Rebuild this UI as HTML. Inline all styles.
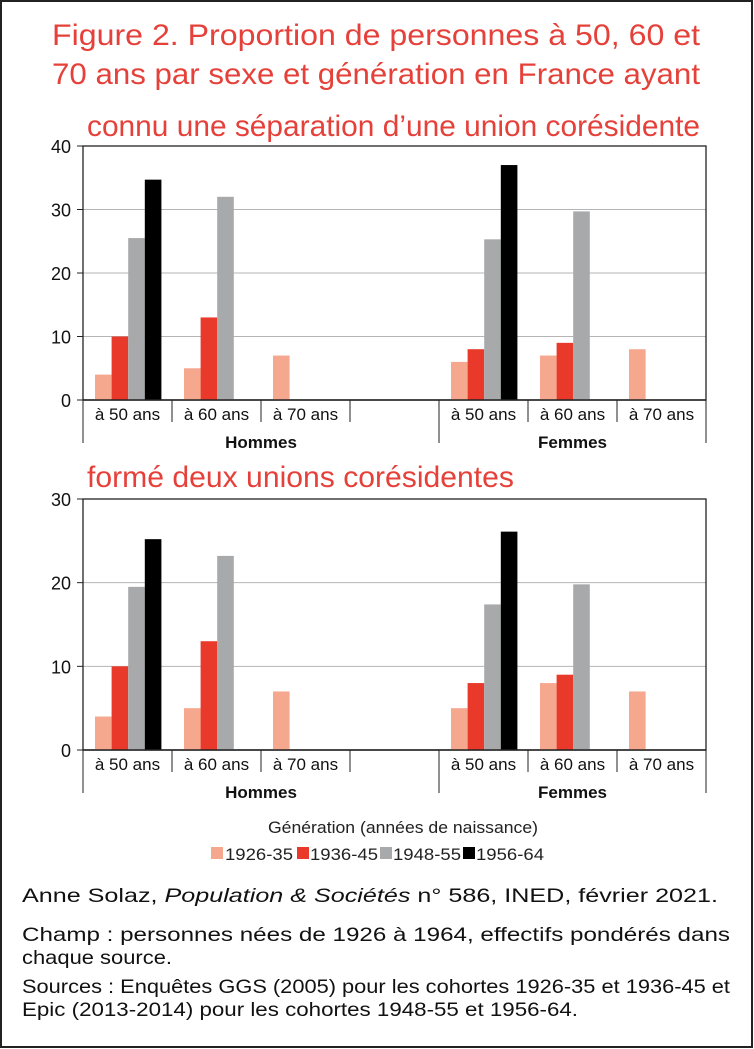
<!DOCTYPE html>
<html><head><meta charset="utf-8"><style>
body{margin:0;background:#fff}
svg{display:block;font-family:"Liberation Sans Narrow","Liberation Sans",sans-serif}
</style></head><body>
<svg width="754" height="1049" viewBox="0 0 754 1049">
<rect x="1" y="1" width="751" height="1046" fill="#fff" stroke="#222" stroke-width="2"/>
<g fill="#e5413a" font-size="30">
<text x="52" y="45" textLength="648" lengthAdjust="spacingAndGlyphs">Figure 2. Proportion de personnes à 50, 60 et</text>
<text x="52" y="84" textLength="648" lengthAdjust="spacingAndGlyphs">70 ans par sexe et génération en France ayant</text>
<text x="87" y="136" textLength="613" lengthAdjust="spacingAndGlyphs">connu une séparation d’une union corésidente</text>
<text x="87" y="487" textLength="427" lengthAdjust="spacingAndGlyphs">formé deux unions corésidentes</text>
</g>
<g id="c1"></g>
<g id="c2"></g>
<g font-family="Liberation Sans" font-size="17" fill="#222">
<text x="403" y="833" text-anchor="middle" textLength="270" lengthAdjust="spacingAndGlyphs">Génération (années de naissance)</text>
<rect x="211" y="847" width="12" height="12" fill="#f6a88f"/><text x="225" y="860" textLength="68" lengthAdjust="spacingAndGlyphs">1926-35</text>
<rect x="297" y="847" width="12" height="12" fill="#e8392a"/><text x="310" y="860" textLength="68" lengthAdjust="spacingAndGlyphs">1936-45</text>
<rect x="380" y="847" width="12" height="12" fill="#a8a9ab"/><text x="393" y="860" textLength="68" lengthAdjust="spacingAndGlyphs">1948-55</text>
<rect x="463" y="847" width="12" height="12" fill="#000"/><text x="476" y="860" textLength="68" lengthAdjust="spacingAndGlyphs">1956-64</text>
</g>
<g font-family="Liberation Sans" font-size="19.5" fill="#111">
<text x="22" y="902" textLength="696" lengthAdjust="spacingAndGlyphs">Anne Solaz, <tspan font-style="italic">Population &amp; Sociétés</tspan> n° 586, INED, février 2021.</text>
<text x="22" y="941" textLength="708" lengthAdjust="spacingAndGlyphs">Champ : personnes nées de 1926 à 1964, effectifs pondérés dans</text>
<text x="22" y="964" textLength="150" lengthAdjust="spacingAndGlyphs">chaque source.</text>
<text x="22" y="993" textLength="708" lengthAdjust="spacingAndGlyphs">Sources : Enquêtes GGS (2005) pour les cohortes 1926-35 et 1936-45 et</text>
<text x="22" y="1016" textLength="556" lengthAdjust="spacingAndGlyphs">Epic (2013-2014) pour les cohortes 1948-55 et 1956-64.</text>
</g>
</svg>
<script>
const categories = ["à 50 ans","à 60 ans","à 70 ans","","à 50 ans","à 60 ans","à 70 ans"];
const groups = ["Hommes","Femmes"];
const seriesNames = ["1926-35","1936-45","1948-55","1956-64"];
const sepS1926 = [4,5,7,null,6,7,8];
const sepS1936 = [10,13,null,null,8,9,null];
const sepS1948 = [25.5,32,null,null,25.3,29.7,null];
const sepS1956 = [34.7,null,null,null,37,null,null];
const uniS1926 = [4,5,7,null,5,8,7];
const uniS1936 = [10,13,null,null,8,9,null];
const uniS1948 = [19.5,23.2,null,null,17.4,19.8,null];
const uniS1956 = [25.2,null,null,null,26.1,null,null];
const sepTicks = [0,10,20,30,40];
const uniTicks = [0,10,20,30];
const colors = ["#f6a88f","#e8392a","#a8a9ab","#000"];
const NS="http://www.w3.org/2000/svg";
function mk(p,t,a){const e=document.createElementNS(NS,t);for(const k in a)e.setAttribute(k,a[k]);p.appendChild(e);return e;}
function draw(g,top,bottom,max,ticks,series,key){
  const x0=83,x1=706,slot=(x1-x0)/categories.length;
  const y=v=>bottom-(v/max)*(bottom-top);
  ticks.forEach(t=>{
    if(t>0&&t<max){const l=mk(g,'line',{x1:x0,x2:x1,y1:y(t),y2:y(t),stroke:'#b5b5b5','stroke-width':1});
    
    }
    const tx=mk(g,'text',{x:x0-12,y:y(t)+7,'text-anchor':'end','font-size':18,fill:'#111'});
    tx.textContent=t;
    
    
    const tk=mk(g,'line',{x1:x0-6,x2:x0,y1:y(t),y2:y(t),stroke:'#222'});
    
    
  });
  const box=mk(g,'rect',{x:x0,y:top,width:x1-x0,height:bottom-top,fill:'none',stroke:'#222','stroke-width':1.3});
  
  
  series.forEach((s,si)=>{
    s.forEach((v,ci)=>{
      if(v==null)return;
      const bx=x0+ci*slot+12+si*16.6;
      const r=mk(g,'rect',{x:bx,y:y(v),width:16.6,height:bottom-y(v),fill:colors[si]});
      
      
    });
  });
  categories.forEach((c,ci)=>{
    const cx=x0+ci*slot;
    const full=(ci===0||ci===4);
    const l=mk(g,'line',{x1:cx,x2:cx,y1:bottom,y2:bottom+(full?43:22),stroke:'#222'});
    
    
    if(c){const t=mk(g,'text',{x:cx+slot/2,y:bottom+20,'text-anchor':'middle','font-size':17,'font-family':'Liberation Sans',fill:'#111'});
    t.textContent=c;
    
    }
  });
  const le=mk(g,'line',{x1:x1,x2:x1,y1:bottom,y2:bottom+43,stroke:'#222'});
  
  
  const ax=mk(g,'line',{x1:x0,x2:x1,y1:bottom,y2:bottom,stroke:'#222','stroke-width':1.5});
  
  
  groups.forEach((gn,gi)=>{
    const cx=gi===0?x0+slot*2:x0+slot*5.5;
    const t=mk(g,'text',{x:cx,y:bottom+48,'text-anchor':'middle','font-size':17,'font-weight':'bold','font-family':'Liberation Sans',fill:'#111'});
    t.textContent=gn;
    
    
  });
}
draw(document.getElementById('c1'),146,400,40,sepTicks,[sepS1926,sepS1936,sepS1948,sepS1956],'sep');
draw(document.getElementById('c2'),499,750,30,uniTicks,[uniS1926,uniS1936,uniS1948,uniS1956],'uni');
</script>
</body></html>
